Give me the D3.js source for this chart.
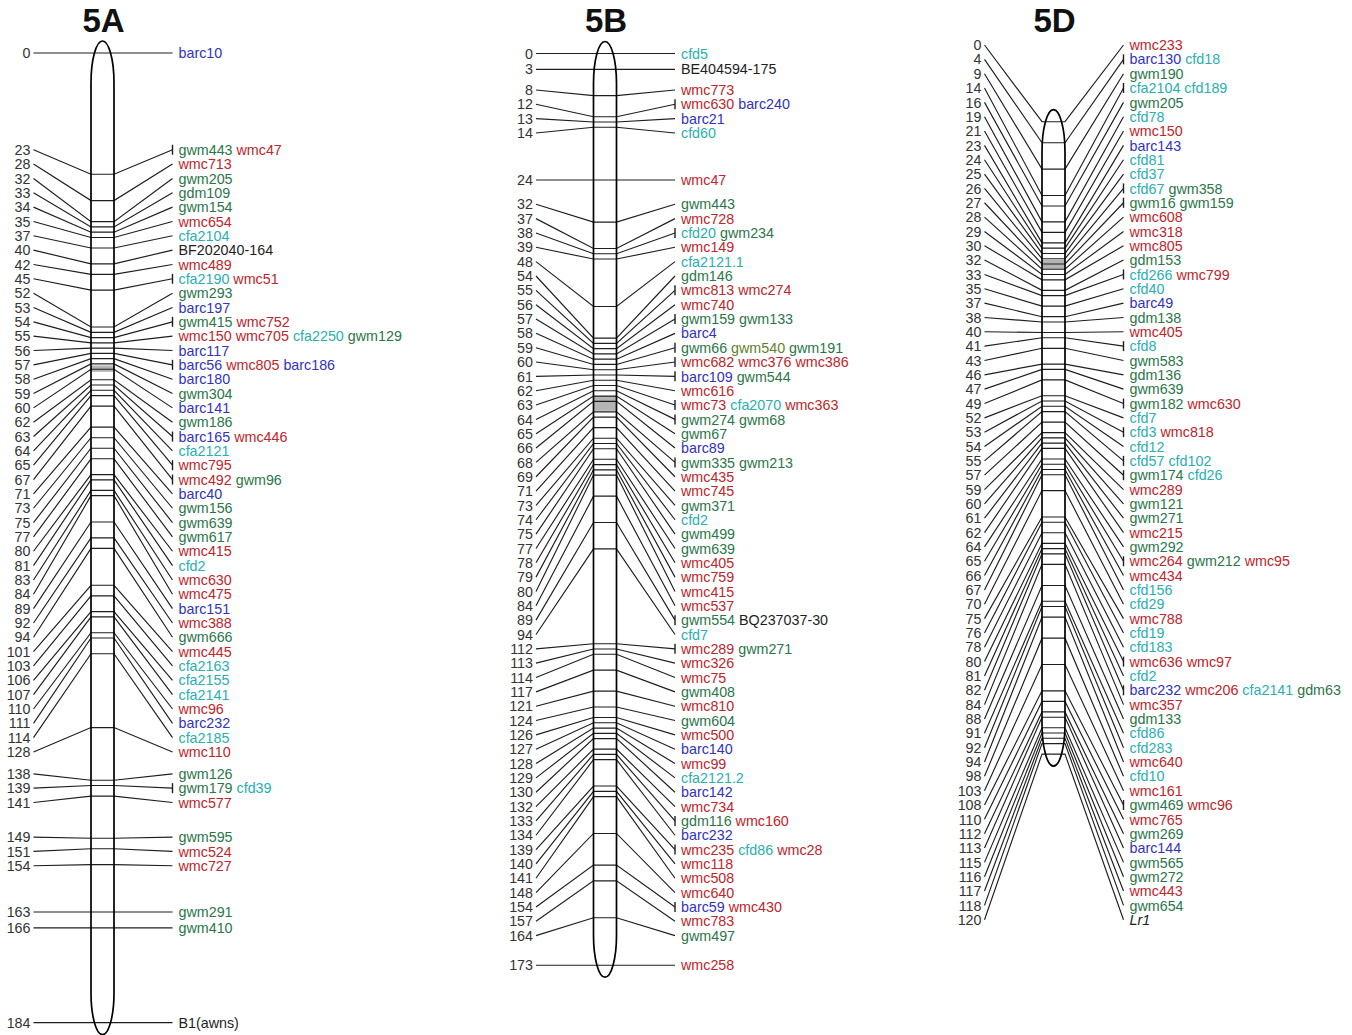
<!DOCTYPE html>
<html>
<head>
<meta charset="utf-8">
<script src="https://cdn.jsdelivr.net/npm/d3@7"></script>
<style>
body { margin: 0; background: #fff; }
text { font-family: "Liberation Sans", Arial, sans-serif; }
</style>
</head>
<body>
<svg id="chart" width="1352" height="1035"></svg>
<script>
// chromosome names
const chromosomes = ['5A', '5B', '5D']

// 5A: positions (cM), markers at each position, rows with a bracket tick, label stacks, centromere
const posA = [0,23,28,32,33,34,35,37,40,42,45,52,53,54,55,56,57,58,59,60,62,63,64,65,67,71,73,75,77,80,81,83,84,89,92,94,101,103,106,107,110,111,114,128,138,139,141,149,151,154,163,166,184]
const markersA = ['barc10','gwm443 wmc47','wmc713','gwm205','gdm109','gwm154','wmc654','cfa2104','BF202040-164','wmc489','cfa2190 wmc51','gwm293','barc197','gwm415 wmc752','wmc150 wmc705 cfa2250 gwm129','barc117','barc56 wmc805 barc186','barc180','gwm304','barc141','gwm186','barc165 wmc446','cfa2121','wmc795','wmc492 gwm96','barc40','gwm156','gwm639','gwm617','wmc415','cfd2','wmc630','wmc475','barc151','wmc388','gwm666','wmc445','cfa2163','cfa2155','cfa2141','wmc96','barc232','cfa2185','wmc110','gwm126','gwm179 cfd39','wmc577','gwm595','wmc524','wmc727','gwm291','gwm410','B1(awns)']
const tickA = [23,45,54,57,63,65,67,139]
const stacksA = [0,23,138,149,163,166,184]
const cenA = [59.3, 60.5]

// 5B
const posB = [0,3,8,12,13,14,24,32,37,38,39,48,54,55,56,57,58,59,60,61,62,63,64,65,66,68,69,71,73,74,75,77,78,79,80,84,89,94,112,113,114,117,121,124,126,127,128,129,130,132,133,134,139,140,141,148,154,157,164,173]
const markersB = ['cfd5','BE404594-175','wmc773','wmc630 barc240','barc21','cfd60','wmc47','gwm443','wmc728','cfd20 gwm234','wmc149','cfa2121.1','gdm146','wmc813 wmc274','wmc740','gwm159 gwm133','barc4','gwm66 gwm540 gwm191','wmc682 wmc376 wmc386','barc109 gwm544','wmc616','wmc73 cfa2070 wmc363','gwm274 gwm68','gwm67','barc89','gwm335 gwm213','wmc435','wmc745','gwm371','cfd2','gwm499','gwm639','wmc405','wmc759','wmc415','wmc537','gwm554 BQ237037-30','cfd7','wmc289 gwm271','wmc326','wmc75','gwm408','wmc810','gwm604','wmc500','barc140','wmc99','cfa2121.2','barc142','wmc734','gdm116 wmc160','barc232','wmc235 cfd86 wmc28','wmc118','wmc508','wmc640','barc59 wmc430','wmc783','gwm497','wmc258']
const tickB = [12,38,55,57,59,60,61,63,64,68,89,112,133,139,154]
const stacksB = [0,3,8,24,32,173]
const cenB = [65, 67.8]

// 5D
const posD = [0,4,9,14,16,19,21,23,24,25,26,27,28,29,30,32,33,35,37,38,40,41,43,46,47,49,52,53,54,55,57,59,60,61,62,64,65,66,67,70,75,76,78,80,81,82,84,88,91,92,94,98,103,108,110,112,113,115,116,117,118,120]
const markersD = ['wmc233','barc130 cfd18','gwm190','cfa2104 cfd189','gwm205','cfd78','wmc150','barc143','cfd81','cfd37','cfd67 gwm358','gwm16 gwm159','wmc608','wmc318','wmc805','gdm153','cfd266 wmc799','cfd40','barc49','gdm138','wmc405','cfd8','gwm583','gdm136','gwm639','gwm182 wmc630','cfd7','cfd3 wmc818','cfd12','cfd57 cfd102','gwm174 cfd26','wmc289','gwm121','gwm271','wmc215','gwm292','wmc264 gwm212 wmc95','wmc434','cfd156','cfd29','wmc788','cfd19','cfd183','wmc636 wmc97','cfd2','barc232 wmc206 cfa2141 gdm63','wmc357','gdm133','cfd86','cfd283','wmc640','cfd10','wmc161','gwm469 wmc96','wmc765','gwm269','barc144','gwm565','gwm272','wmc443','gwm654','Lr1']
const tickD = [4,14,26,27,33,41,49,53,55,57,65,80,82,108]
const stacksD = [0]
const cenD = [26.2, 28]

const oliveMarkers = ['gwm540']

// layout
const PX_PER_CM = 5.27
const STEP = 14.34       // label row height
const LABEL_TOP = 45
const CHR_W = 23
const CAP = 42

let maps = [
    {name: chromosomes[0], pos: posA, markers: markersA, ticks: tickA, stacks: stacksA, cen: cenA, cx: 102.5, top: 53},
    {name: chromosomes[1], pos: posB, markers: markersB, ticks: tickB, stacks: stacksB, cen: cenB, cx: 605, top: 53.5},
    {name: chromosomes[2], pos: posD, markers: markersD, ticks: tickD, stacks: stacksD, cen: cenD, cx: 1053.5, top: 121.7}
]

let colorFor = (m) => {
    if (oliveMarkers.includes(m)) return '#5f7f2c'
    if (m.startsWith('barc')) return '#3232c0'
    if (m.startsWith('wmc')) return '#c0252b'
    if (m.startsWith('gwm') || m.startsWith('gdm')) return '#2b7649'
    if (m.startsWith('cfa') || m.startsWith('cfd')) return '#2aafaf'
    return '#1e1e1e'
}

// labels of a stack sit one row apart, centred on the middle of the stack's range
let stackLabels = (ys, pos, starts) => {
    let out = []
    starts.forEach((s, k) => {
        let i0 = pos.indexOf(s)
        let i1 = k + 1 < starts.length ? pos.indexOf(starts[k + 1]) - 1 : pos.length - 1
        let n = i1 - i0 + 1
        let first = (ys[i0] + ys[i1]) / 2 - (n - 1) * STEP / 2
        first = Math.max(first, LABEL_TOP)
        for (let j = 0; j < n; j++) out[i0 + j] = first + j * STEP
    })
    return out
}

let chromPath = (cx, top, bottom) => {
    let l = cx - CHR_W / 2, r = cx + CHR_W / 2, rx = CHR_W / 2
    return `M${l},${top + CAP} A${rx},${CAP} 0 0 1 ${r},${top + CAP} L${r},${bottom - CAP} A${rx},${CAP} 0 0 1 ${l},${bottom - CAP} Z`
}

let svg = d3.select('#chart')

let drawMap = (m) => {
    let maxPos = d3.max(m.pos)
    let y = d3.scaleLinear().domain([0, maxPos]).range([m.top, m.top + maxPos * PX_PER_CM])
    let ys = m.pos.map(p => y(p))
    let ly = stackLabels(ys, m.pos, m.stacks)
    let l = m.cx - CHR_W / 2, r = m.cx + CHR_W / 2
    let g = svg.append('g')

    g.append('text')
        .attr('x', m.cx + 1)
        .attr('y', 32)
        .attr('text-anchor', 'middle')
        .attr('font-size', 33)
        .attr('font-weight', 'bold')
        .attr('fill', '#111')
        .text(m.name)

    let top = y(0) - 12, bottom = y(maxPos) + 12
    g.append('path')
        .attr('d', chromPath(m.cx, top, bottom))
        .attr('fill', '#fff')

    g.append('rect')
        .attr('x', l)
        .attr('y', y(m.cen[0]))
        .attr('width', CHR_W)
        .attr('height', y(m.cen[1]) - y(m.cen[0]))
        .attr('fill', '#b4b4b4')

    let rows = m.pos.map((p, i) => ({pos: p, cy: ys[i], ly: ly[i], markers: m.markers[i].split(' ')}))

    g.selectAll('path.link')
        .data(rows)
        .enter()
        .append('path')
        .attr('class', 'link')
        .attr('d', d => `M${m.cx - 69},${d.ly} L${l},${d.cy} L${r},${d.cy} L${m.cx + 70},${d.ly}`)
        .attr('fill', 'none')
        .attr('stroke', '#1e1e1e')
        .attr('stroke-width', 1.15)

    g.selectAll('line.tick')
        .data(rows.filter(d => m.ticks.includes(d.pos)))
        .enter()
        .append('line')
        .attr('class', 'tick')
        .attr('x1', m.cx + 70).attr('x2', m.cx + 70)
        .attr('y1', d => d.ly - 5).attr('y2', d => d.ly + 5)
        .attr('stroke', '#1e1e1e')
        .attr('stroke-width', 1.4)

    g.append('path')
        .attr('d', chromPath(m.cx, top, bottom))
        .attr('fill', 'none')
        .attr('stroke', '#000')
        .attr('stroke-width', 1.7)

    g.selectAll('text.pos')
        .data(rows)
        .enter()
        .append('text')
        .attr('class', 'pos')
        .attr('x', m.cx - 72)
        .attr('y', d => d.ly)
        .attr('dy', '0.36em')
        .attr('text-anchor', 'end')
        .attr('font-size', 14.3)
        .attr('fill', '#333')
        .text(d => d.pos)

    let names = g.selectAll('text.marker')
        .data(rows)
        .enter()
        .append('text')
        .attr('class', 'marker')
        .attr('x', m.cx + 76)
        .attr('y', d => d.ly)
        .attr('dy', '0.36em')
        .attr('font-size', 14.3)
        .style('white-space', 'pre')

    names.selectAll('tspan')
        .data(d => d.markers)
        .enter()
        .append('tspan')
        .attr('fill', d => colorFor(d))
        .attr('font-style', d => d === 'Lr1' ? 'italic' : null)
        .text((d, i) => (i > 0 ? ' ' : '') + d)
}

maps.forEach(drawMap)
</script>
</body>
</html>
